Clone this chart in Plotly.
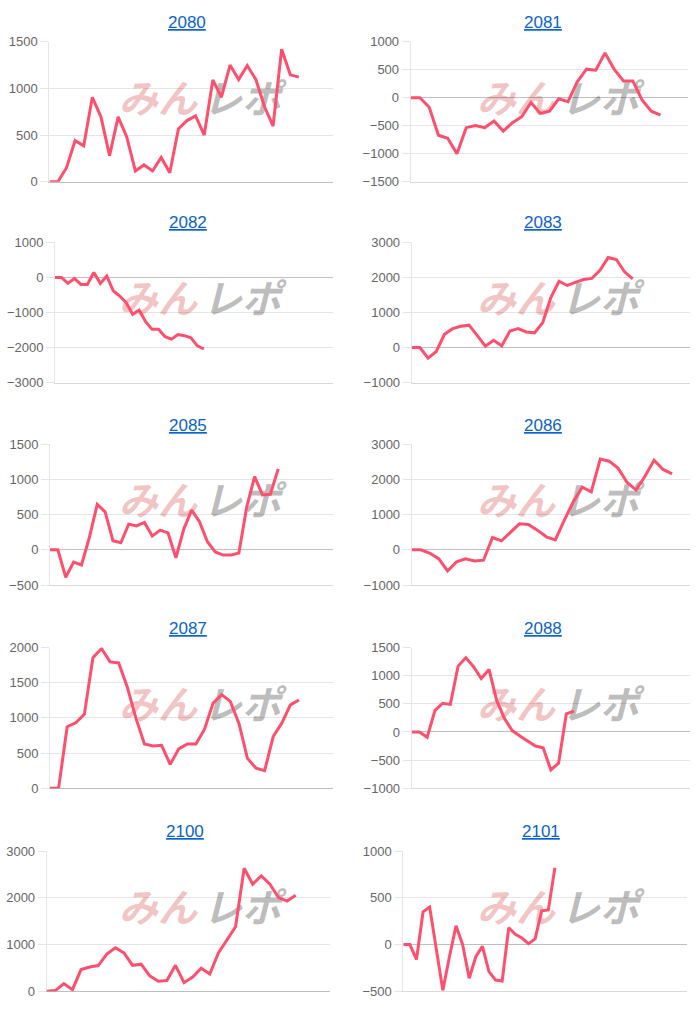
import plotly.graph_objects as go

# ---------------- data ----------------
titles = ["2080", "2081", "2082", "2083", "2085", "2086", "2087", "2088", "2100", "2101"]

v2080 = [0, 0, 150, 440, 385, 905, 695, 280, 695, 480, 115, 180, 115, 260, 95, 565,
         655, 705, 500, 1090, 905, 1250, 1095, 1245, 1095, 805, 595, 1420, 1145, 1120]
v2081 = [0, 0, -170, -670, -725, -1000, -535, -495, -535, -415, -595, -445, -340, -85,
         -280, -240, -20, -70, 285, 510, 490, 800, 505, 300, 300, -40, -240, -310]
v2082 = [0, 0, -170, -30, -200, -200, 140, -170, 40, -380, -530, -720, -1050, -930,
         -1260, -1480, -1480, -1690, -1760, -1630, -1660, -1720, -1950, -2040]
v2083 = [0, 0, -300, -110, 380, 540, 610, 640, 350, 40, 210, 50, 475, 540, 445, 420,
         710, 1425, 1890, 1770, 1860, 1940, 1970, 2200, 2565, 2510, 2160, 1960]
v2085 = [0, 0, -390, -175, -215, 175, 645, 540, 130, 100, 365, 340, 390, 195, 280, 240,
         -115, 295, 565, 400, 115, -30, -75, -75, -45, 610, 1040, 780, 790, 1150]
v2086 = [0, 0, -90, -250, -600, -340, -255, -315, -295, 350, 255, 510, 740, 720, 560,
         370, 285, 845, 1365, 1780, 1650, 2580, 2520, 2315, 1915, 1700, 2100, 2550, 2285, 2160]
v2087 = [0, 0, 875, 930, 1050, 1855, 1985, 1795, 1780, 1440, 1000, 630, 600, 610, 340,
         560, 630, 630, 840, 1210, 1330, 1235, 925, 425, 285, 250, 735, 925, 1185, 1255]
v2088 = [0, 0, -95, 380, 510, 490, 1170, 1320, 1160, 950, 1110, 555, 240, 25, -70,
         -160, -250, -280, -675, -555, 320, 370]
v2100 = [0, 15, 165, 35, 465, 520, 550, 795, 930, 820, 555, 580, 330, 215, 230, 555,
         185, 305, 495, 370, 820, 1090, 1380, 2630, 2290, 2470, 2290, 2005, 1930, 2055]
v2101 = [0, 0, -160, 350, 400, -50, -490, -130, 200, 0, -360, -130, -20, -290, -380,
         -390, 180, 110, 70, 10, 60, 360, 370, 820]

series = [v2080, v2081, v2082, v2083, v2085, v2086, v2087, v2088, v2100, v2101]
slots = [34, 31, 44, 35, 37, 32, 34, 37, 34, 44]          # category slots on x axis
y_min = [0, -1500, -3000, -1000, -500, -1000, 0, -1000, 0, -500]
y_max = [1500, 1000, 1000, 3000, 1500, 3000, 2000, 1500, 3000, 1000]
y_step = [500, 500, 1000, 1000, 500, 1000, 500, 500, 1000, 500]

# ---------------- layout geometry (pixels) ----------------
W, H = 700, 1010
px_left = [49.3, 410.7, 55, 411.7, 50, 411.7, 50, 411.7, 46.7, 403.3]
px_right = [333.3, 688.3, 333.3, 690, 333.3, 690, 333.3, 690, 330, 686.7]
row_top = [41.7, 242.3, 444.3, 647.5, 851]
row_bot = [181.7, 382.7, 585, 788.3, 991.3]
title_y = [22, 222.7, 425.7, 628.3, 831.7]
title_x = [[187, 188, 188, 188, 185], [543, 543, 543, 543, 541]]

LINE = "#ff4f6d"
GRID = "rgba(0,0,0,0.1)"
ZERO = "rgba(0,0,0,0.25)"

fig = go.Figure()
annotations = []
shapes = []

for i, (t, vals) in enumerate(zip(titles, series)):
    row, col = divmod(i, 2)
    n = i + 1
    xa = "x" if n == 1 else f"x{n}"
    ya = "y" if n == 1 else f"y{n}"
    fig.add_trace(go.Scatter(
        x=list(range(len(vals))), y=vals, mode="lines",
        line=dict(color=LINE, width=3), xaxis=xa, yaxis=ya,
        hoverinfo="skip", showlegend=False))

    xd = [px_left[i] / W, px_right[i] / W]
    yd = [1 - row_bot[row] / H, 1 - row_top[row] / H]
    xkey = "xaxis" if n == 1 else f"xaxis{n}"
    ykey = "yaxis" if n == 1 else f"yaxis{n}"
    fig.layout[xkey] = dict(
        domain=xd, anchor=ya, range=[0, slots[i] - 1], automargin=False,
        showgrid=False, zeroline=False, showticklabels=False,
        showline=True, linecolor="rgba(0,0,0,0.15)", linewidth=1, ticks="",
        fixedrange=True)
    fig.layout[ykey] = dict(
        domain=yd, anchor=xa, range=[y_min[i], y_max[i]], automargin=False,
        tick0=y_min[i], dtick=y_step[i], tickmode="linear",
        showgrid=True, gridcolor=GRID, gridwidth=1,
        zeroline=(y_min[i] < 0), zerolinecolor=ZERO, zerolinewidth=1,
        showline=True, linecolor=GRID, linewidth=1,
        ticks="outside", ticklen=8, tickcolor=GRID,
        tickfont=dict(family="Liberation Sans, Arial, sans-serif", size=13, color="#666"),
        fixedrange=True)
    if y_min[i] == 0:
        fig.layout[xkey].linecolor = ZERO

    # title (underlined link style)
    annotations.append(dict(
        text=f'<span style="text-decoration:underline">{t}</span>',
        x=title_x[col][row] / W, y=1 - title_y[row] / H, xref="paper", yref="paper",
        showarrow=False, xanchor="center", yanchor="middle",
        font=dict(family="Liberation Sans, Arial, sans-serif", size=17, color="#0b63ce")))

    # watermark "みんレポ"
    cy = row_top[row] + 60
    pink_cx = 158 if col == 0 else 516
    gray_cx = 242 if col == 0 else 600
    for txt, cx, colr in (("みん", pink_cx, "rgba(226,110,110,0.42)"),
                          ("レポ", gray_cx, "rgba(150,150,150,0.65)")):
        shapes.append(dict(
            type="rect", xref="paper", yref="paper", layer="below",
            x0=(cx - 45) / W, x1=(cx + 45) / W,
            y0=1 - (cy + 18) / H, y1=1 - (cy - 18) / H,
            line=dict(width=0), fillcolor="rgba(0,0,0,0)",
            label=dict(text=f"<b><i>{txt}</i></b>", textposition="middle center",
                       font=dict(family="Noto Sans CJK JP", size=39, color=colr))))

fig.update_layout(
    width=W, height=H, margin=dict(l=0, r=0, t=0, b=0, autoexpand=False),
    paper_bgcolor="white", plot_bgcolor="white",
    annotations=annotations, shapes=shapes, showlegend=False)

fig.write_html("out.html", config={"displayModeBar": False})
